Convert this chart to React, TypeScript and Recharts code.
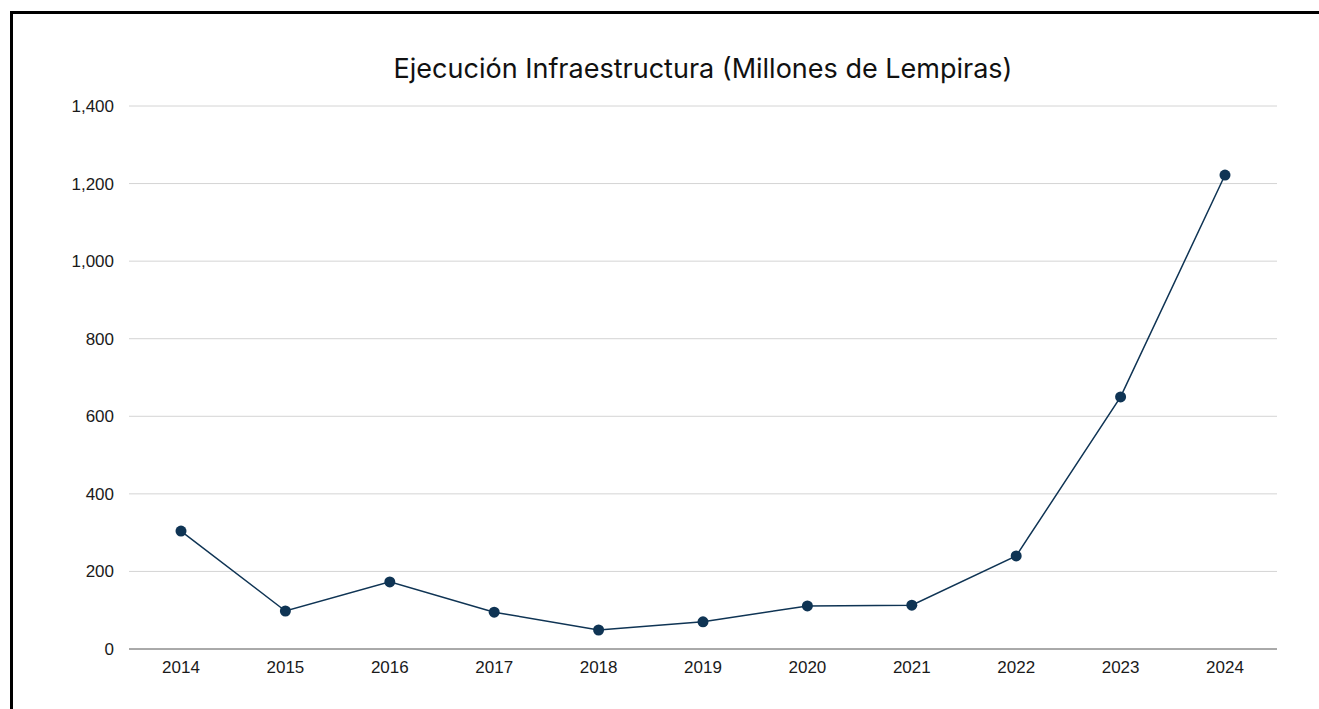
import * as React from 'react';
import { CartesianGrid, Line, LineChart, XAxis, YAxis } from 'recharts';

const years = ['2014', '2015', '2016', '2017', '2018', '2019', '2020', '2021', '2022', '2023', '2024'];
const ejecucion = [304, 98, 173, 95, 49, 70, 111, 113, 240, 650, 1222];
const yTicks = [0, 200, 400, 600, 800, 1000, 1200, 1400];

const data = years.map((year, i) => ({ year, value: ejecucion[i] }));

const lineColor = '#0f3454';
const tickStyle = { fill: '#1a1a1a', fontSize: 17, fontFamily: '"Liberation Sans", Arial, sans-serif' };

export default function App() {
  return (
    <div
      style={{
        position: 'fixed',
        left: 10,
        top: 11,
        right: 0,
        bottom: 0,
        borderTop: '3px solid #000',
        borderLeft: '3px solid #000',
        background: '#fff',
      }}
    >
      <div
        style={{
          position: 'absolute',
          left: 116,
          width: 1148,
          top: 38,
          textAlign: 'center',
          fontFamily: 'Inter, sans-serif',
          fontSize: 27,
          color: '#111',
        }}
      >
        Ejecución Infraestructura (Millones de Lempiras)
      </div>
      <LineChart
        width={1300}
        height={690}
        data={data}
        margin={{ top: 92, right: 36, bottom: 25, left: 16 }}
      >
        <CartesianGrid vertical={false} stroke="#d4d4d4" strokeWidth={1} />
        <XAxis
          dataKey="year"
          height={30}
          padding={{ left: 52, right: 52 }}
          tickLine={false}
          axisLine={{ stroke: '#6b6b6b' }}
          tickSize={0}
          tickMargin={12}
          tick={tickStyle}
        />
        <YAxis
          width={100}
          domain={[0, 1400]}
          ticks={yTicks}
          tickLine={false}
          axisLine={false}
          tickSize={0}
          tickMargin={15}
          tick={tickStyle}
          tickFormatter={(v: number) => v.toLocaleString('en-US')}
        />
        <Line
          dataKey="value"
          type="linear"
          stroke={lineColor}
          strokeWidth={1.5}
          dot={{ r: 5.5, fill: lineColor, stroke: lineColor, strokeWidth: 0 }}
          isAnimationActive={false}
        />
      </LineChart>
    </div>
  );
}
